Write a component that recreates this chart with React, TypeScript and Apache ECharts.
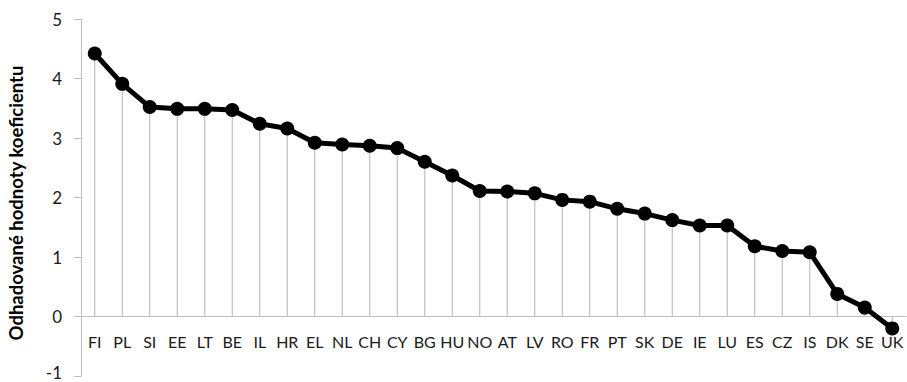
import React, { useEffect, useRef } from "react";
import * as echarts from "echarts";

const categories = ["FI","PL","SI","EE","LT","BE","IL","HR","EL","NL","CH","CY","BG","HU","NO","AT","LV","RO","FR","PT","SK","DE","IE","LU","ES","CZ","IS","DK","SE","UK"];
const values = [4.42,3.91,3.52,3.49,3.49,3.47,3.24,3.16,2.92,2.89,2.87,2.83,2.60,2.37,2.11,2.10,2.07,1.96,1.93,1.81,1.73,1.62,1.53,1.53,1.18,1.10,1.08,0.38,0.15,-0.2];
const yTicks = { min: -1, max: 5, interval: 1 };
const yTitle = "Odhadované hodnoty koeficientu";

const FONT = "Lato, 'Liberation Sans', sans-serif";
const GRID = { left: 81, right: 1, top: 19, bottom: 6 };
const H = 382;

export default function App() {
  const ref = useRef<HTMLDivElement>(null);
  useEffect(() => {
    if (!ref.current) return;
    const chart = echarts.init(ref.current, undefined, { renderer: "svg" });
    const plotH = H - GRID.top - GRID.bottom;
    const unit = plotH / (yTicks.max - yTicks.min);
    const zeroOffset = -(0 - yTicks.min) * unit;
    const labelStyle = { color: "#1a1a1a", fontSize: 17, fontFamily: FONT };
    chart.setOption({
      animation: false,
      backgroundColor: "#ffffff",
      grid: GRID,
      xAxis: {
        type: "category",
        data: categories,
        boundaryGap: true,
        offset: zeroOffset,
        axisLine: { onZero: false, lineStyle: { color: "#bfbfbf", width: 1 } },
        axisTick: { show: false },
        axisLabel: { color: "#1a1a1a", fontSize: 16, fontFamily: FONT, margin: 17, interval: 0 },
        splitLine: { show: false },
      },
      yAxis: {
        type: "value",
        min: yTicks.min,
        max: yTicks.max,
        interval: yTicks.interval,
        axisLine: { show: true, lineStyle: { color: "#bfbfbf", width: 1 } },
        axisTick: { show: true, length: 7, lineStyle: { color: "#bfbfbf" } },
        axisLabel: {
          ...labelStyle,
          margin: 19,
          formatter: (v: number) => (v === yTicks.min ? `{m|${v}}` : `${v}`),
          rich: { m: { ...labelStyle, padding: [0, 0, 8, 0] } },
        },
        splitLine: { show: false },
      },
      graphic: [
        {
          type: "text",
          x: 16,
          y: 203,
          rotation: Math.PI / 2,
          style: {
            text: yTitle,
            fill: "#000",
            font: `bold 18.5px ${FONT}`,
            align: "center",
            verticalAlign: "middle",
          },
        },
      ],
      series: [
        {
          type: "bar",
          data: values,
          barWidth: 1,
          itemStyle: { color: "#b4b4b4" },
          z: 1,
        },
        {
          type: "line",
          data: values,
          symbol: "circle",
          symbolSize: 14,
          lineStyle: { color: "#000", width: 5 },
          itemStyle: { color: "#000" },
          z: 3,
        },
      ],
    });
    return () => chart.dispose();
  }, []);
  return <div ref={ref} style={{ position: "fixed", left: 0, top: 0, width: 907, height: 382 }} />;
}
